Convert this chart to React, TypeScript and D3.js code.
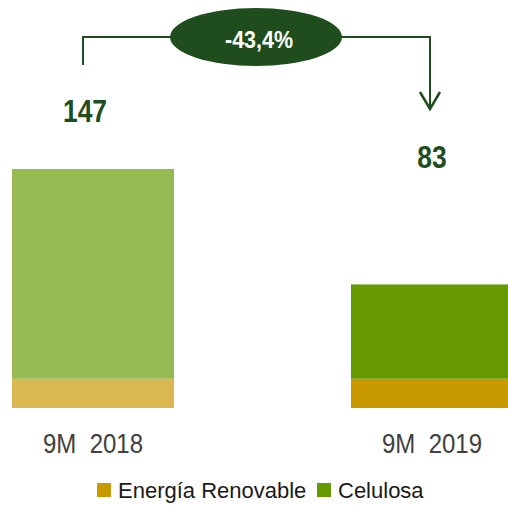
import React, { useEffect, useRef } from "react";
import * as d3 from "d3";

// chart data
const categories = ["9M  2018", "9M  2019"];
const energia = [18, 18];
const celulosa = [129, 58];
const totals = ["147", "83"];
const changeLabel = "-43,4%";
const seriesNames = ["Energía Renovable", "Celulosa"];

const colorsEnergia = ["#D9B84F", "#C99A00"];
const colorsCelulosa = ["#97B951", "#669900"];
const darkGreen = "#1F4D1D";

const App = () => {
  const ref = useRef<SVGSVGElement | null>(null);

  useEffect(() => {
    const w = 508,
      h = 506;
    const svg = d3.select(ref.current).attr("width", w).attr("height", h);
    svg.selectAll("*").remove();

    const font = "'Liberation Sans', Arial, sans-serif";

    // x scale
    const x = d3.scaleBand().domain(categories).range([12, 513]).paddingInner(0.522).paddingOuter(0);

    // y scale
    const y = d3.scaleLinear().domain([0, 147]).range([408, 169]);

    const rows = categories.map((c, i) => ({ cat: c, e: energia[i], c: celulosa[i], i: i }));

    // energia segment
    svg
      .selectAll(".bar_e")
      .data(rows)
      .join("rect")
      .attr("class", "bar_e")
      .attr("x", (d) => x(d.cat)!)
      .attr("width", x.bandwidth())
      .attr("y", (d) => y(d.e))
      .attr("height", (d) => y(0) - y(d.e))
      .style("fill", (d) => colorsEnergia[d.i]);

    // celulosa segment
    svg
      .selectAll(".bar_c")
      .data(rows)
      .join("rect")
      .attr("class", "bar_c")
      .attr("x", (d) => x(d.cat)!)
      .attr("width", x.bandwidth())
      .attr("y", (d) => y(d.e + d.c))
      .attr("height", (d) => y(d.e) - y(d.e + d.c))
      .style("fill", (d) => colorsCelulosa[d.i]);

    // category labels
    svg
      .selectAll(".cat_label")
      .data(rows)
      .join("text")
      .attr("class", "cat_label")
      .attr("x", (d) => x(d.cat)! + x.bandwidth() / 2)
      .attr("y", 453)
      .attr("text-anchor", "middle")
      .attr("textLength", 100)
      .attr("lengthAdjust", "spacingAndGlyphs")
      .style("font-family", font)
      .style("font-size", "28px")
      .style("fill", "#404040")
      .style("white-space", "pre")
      .text((d) => d.cat);

    // total labels (placed as in the slide, not on bar tops)
    const totalY = [122, 168];
    svg
      .selectAll(".total_label")
      .data(rows)
      .join("text")
      .attr("class", "total_label")
      .attr("x", (d) => [85, 432][d.i])
      .attr("y", (d) => totalY[d.i])
      .attr("text-anchor", "middle")
      .attr("textLength", (d) => totals[d.i].length * 14.7)
      .attr("lengthAdjust", "spacingAndGlyphs")
      .style("font-family", font)
      .style("font-weight", "bold")
      .style("font-size", "31px")
      .style("fill", darkGreen)
      .text((d) => totals[d.i]);

    // bracket with arrow
    const ex = 256,
      ey = 37;
    svg
      .append("path")
      .attr("d", `M83,65 V${ey} H430 V109`)
      .style("fill", "none")
      .style("stroke", darkGreen)
      .style("stroke-width", 2);
    svg
      .append("path")
      .attr("d", `M420,92 L430,109 L440,92`)
      .style("fill", "none")
      .style("stroke", darkGreen)
      .style("stroke-width", 2.5);

    svg
      .append("ellipse")
      .attr("cx", ex)
      .attr("cy", ey)
      .attr("rx", 86)
      .attr("ry", 29)
      .style("fill", darkGreen);

    svg
      .append("text")
      .attr("x", 259)
      .attr("y", 48)
      .attr("text-anchor", "middle")
      .attr("textLength", 68)
      .attr("lengthAdjust", "spacingAndGlyphs")
      .style("font-family", font)
      .style("font-weight", "bold")
      .style("font-size", "24px")
      .style("fill", "#ffffff")
      .text(changeLabel);

    // legend
    const legendX = [97, 317];
    const legendColors = [colorsEnergia[1], colorsCelulosa[1]];
    const legend = svg
      .selectAll(".legend")
      .data(seriesNames)
      .join("g")
      .attr("class", "legend")
      .attr("transform", (d, i) => `translate(${legendX[i]}, 483)`);
    legend
      .append("rect")
      .attr("width", 14)
      .attr("height", 14)
      .style("fill", (d, i) => legendColors[i]);
    legend
      .append("text")
      .attr("x", 21)
      .attr("y", 15)
      .style("font-family", font)
      .style("font-size", "22px")
      .style("fill", "#1a1a1a")
      .text((d) => d);
  }, []);

  return <svg ref={ref} style={{ position: "absolute", left: 0, top: 0 }}></svg>;
};

export default App;
